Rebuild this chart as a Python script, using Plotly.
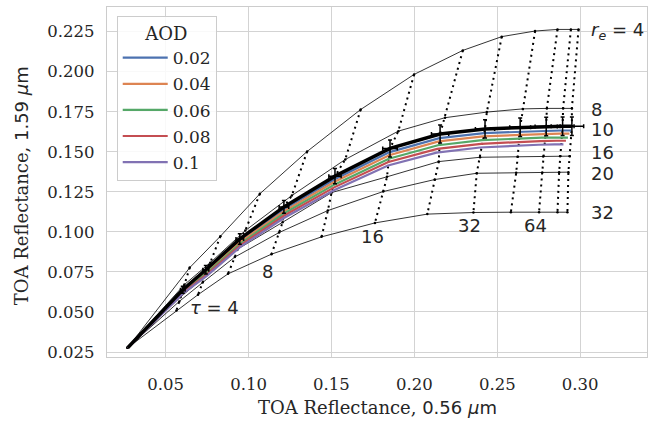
import plotly.graph_objects as go

# ---------------- data ----------------
tau = [2, 4, 6, 8, 12, 16, 24, 32, 48, 64, 96, 128]
re_values = [4, 8, 10, 16, 20, 32]
origin_x = 0.0271
origin_y = 0.0277

re4_x = [0.0645, 0.0830, 0.1068, 0.1353, 0.1676, 0.1998, 0.2292, 0.2527, 0.2728, 0.2863, 0.2944, 0.2990]
re4_y = [0.0777, 0.0973, 0.1238, 0.1502, 0.1764, 0.1983, 0.2133, 0.2219, 0.2254, 0.2264, 0.2264, 0.2264]
re8_x = [0.0613, 0.0769, 0.0980, 0.1261, 0.1583, 0.1903, 0.2185, 0.2437, 0.2654, 0.2799, 0.2897, 0.2950]
re8_y = [0.0671, 0.0808, 0.1008, 0.1227, 0.1452, 0.1629, 0.1713, 0.1748, 0.1768, 0.1771, 0.1771, 0.1771]
re10_x = [0.0603, 0.0742, 0.0947, 0.1213, 0.1521, 0.1853, 0.2155, 0.2426, 0.2638, 0.2795, 0.2894, 0.2950]
re10_y = [0.0639, 0.0764, 0.0956, 0.1156, 0.1348, 0.1521, 0.1611, 0.1643, 0.1653, 0.1658, 0.1660, 0.1660]
re16_x = [0.0589, 0.0737, 0.0935, 0.1205, 0.1502, 0.1835, 0.2147, 0.2396, 0.2623, 0.2777, 0.2879, 0.2937]
re16_y = [0.0593, 0.0721, 0.0893, 0.1060, 0.1246, 0.1344, 0.1439, 0.1466, 0.1469, 0.1471, 0.1472, 0.1473]
re20_x = [0.0582, 0.0723, 0.0917, 0.1184, 0.1478, 0.1812, 0.2123, 0.2376, 0.2614, 0.2771, 0.2873, 0.2929]
re20_y = [0.0566, 0.0684, 0.0843, 0.0996, 0.1133, 0.1252, 0.1327, 0.1366, 0.1369, 0.1371, 0.1373, 0.1373]
re32_x = [0.0565, 0.0695, 0.0876, 0.1138, 0.1440, 0.1762, 0.2078, 0.2356, 0.2582, 0.2752, 0.2863, 0.2923]
re32_y = [0.0510, 0.0608, 0.0738, 0.0861, 0.0969, 0.1056, 0.1111, 0.1121, 0.1123, 0.1123, 0.1123, 0.1123]

# observation (re = 10, no aerosol) uncertainties
err_x = [0.0014, 0.0018, 0.0023, 0.0029, 0.0037, 0.0044, 0.0052, 0.0058, 0.0063, 0.0067, 0.0069, 0.0071]
err_y = [0.0022, 0.0027, 0.0033, 0.0040, 0.0047, 0.0053, 0.0056, 0.0057, 0.0058, 0.0058, 0.0058, 0.0058]

aod_labels = ["0.02", "0.04", "0.06", "0.08", "0.1"]
aod002_x = [0.0604, 0.0743, 0.0947, 0.1213, 0.1520, 0.1851, 0.2151, 0.2420, 0.2631, 0.2787, 0.2886, 0.2945]
aod002_y = [0.0635, 0.0756, 0.0945, 0.1141, 0.1329, 0.1498, 0.1585, 0.1617, 0.1626, 0.1631, 0.1633, 0.1633]
aod004_x = [0.0605, 0.0744, 0.0948, 0.1213, 0.1519, 0.1848, 0.2147, 0.2414, 0.2623, 0.2777, 0.2876, 0.2935]
aod004_y = [0.0631, 0.0749, 0.0936, 0.1128, 0.1313, 0.1479, 0.1565, 0.1596, 0.1606, 0.1611, 0.1613, 0.1613]
aod006_x = [0.0607, 0.0746, 0.0949, 0.1213, 0.1517, 0.1846, 0.2142, 0.2408, 0.2615, 0.2768, 0.2865, 0.2926]
aod006_y = [0.0628, 0.0741, 0.0926, 0.1115, 0.1295, 0.1457, 0.1541, 0.1573, 0.1584, 0.1588, 0.1589, 0.1589]
aod008_x = [0.0608, 0.0747, 0.0949, 0.1213, 0.1516, 0.1843, 0.2138, 0.2402, 0.2607, 0.2759, 0.2856, 0.2914]
aod008_y = [0.0624, 0.0734, 0.0916, 0.1101, 0.1278, 0.1436, 0.1518, 0.1550, 0.1562, 0.1567, 0.1569, 0.1569]
aod010_x = [0.0609, 0.0748, 0.0950, 0.1213, 0.1515, 0.1841, 0.2134, 0.2396, 0.2599, 0.2750, 0.2846, 0.2899]
aod010_y = [0.0620, 0.0726, 0.0906, 0.1087, 0.1260, 0.1415, 0.1495, 0.1527, 0.1539, 0.1544, 0.1546, 0.1546]
aod_colors = ["#4C72B0", "#DD8452", "#55A868", "#C44E52", "#8172B3"]

xticks = [0.05, 0.10, 0.15, 0.20, 0.25, 0.30]
xtick_text = ["0.05", "0.10", "0.15", "0.20", "0.25", "0.30"]
yticks = [0.025, 0.050, 0.075, 0.100, 0.125, 0.150, 0.175, 0.200, 0.225]
ytick_text = ["0.025", "0.050", "0.075", "0.100", "0.125", "0.150", "0.175", "0.200", "0.225"]

re_label_text = ["<i>r</i><sub><i>e</i></sub> = 4", "8", "10", "16", "20", "32"]
re_label_y = [0.2254, 0.1764, 0.1639, 0.1494, 0.1364, 0.1119]
re_label_x = 0.3054
tau_label_text = ["<i>τ</i> = 4", "8", "16", "32", "64"]
tau_label_x = [0.0796, 0.1116, 0.1750, 0.2334, 0.2728]
tau_label_y = [0.0527, 0.0752, 0.0971, 0.1039, 0.1039]

x_title = 'TOA Reflectance, <span style="font-family:DejaVu Sans">0.56 <i>μ</i>m</span>'
y_title = 'TOA Reflectance, <span style="font-family:DejaVu Sans">1.59 <i>μ</i>m</span>'

# ---------------- figure ----------------
SERIF = "DejaVu Serif"
SANS = "DejaVu Sans"
TXT = "#262626"

fig = go.Figure()

re_x = [re4_x, re8_x, re10_x, re16_x, re20_x, re32_x]
re_y = [re4_y, re8_y, re10_y, re16_y, re20_y, re32_y]

# constant-re curves
for xs, ys in zip(re_x, re_y):
    fig.add_trace(go.Scatter(
        x=[origin_x] + xs, y=[origin_y] + ys, mode="lines+markers",
        line=dict(color="black", width=0.8), marker=dict(size=2.5, color="black"),
        showlegend=False, hoverinfo="skip"))

# constant-tau curves (dotted)
for i in range(len(tau)):
    fig.add_trace(go.Scatter(
        x=[xs[i] for xs in re_x], y=[ys[i] for ys in re_y], mode="lines",
        line=dict(color="black", width=2, dash="2px,4px"),
        showlegend=False, hoverinfo="skip"))

# aerosol-affected re = 10 curves
aod_x = [aod002_x, aod004_x, aod006_x, aod008_x, aod010_x]
aod_y = [aod002_y, aod004_y, aod006_y, aod008_y, aod010_y]
for k, (xs, ys) in enumerate(zip(aod_x, aod_y)):
    fig.add_trace(go.Scatter(
        x=[origin_x] + xs, y=[origin_y] + ys, mode="lines",
        line=dict(color=aod_colors[k], width=2.2),
        name=aod_labels[k], legendgroup="g%d" % k, hoverinfo="skip"))

# observations with error bars (re = 10, no aerosol)
fig.add_trace(go.Scatter(
    x=[origin_x] + re10_x, y=[origin_y] + re10_y, mode="lines",
    line=dict(color="black", width=3.5), showlegend=False, hoverinfo="skip"))
fig.add_trace(go.Scatter(
    x=re10_x, y=re10_y, mode="markers", marker=dict(size=1, color="black"),
    error_x=dict(type="data", array=err_x, color="black", thickness=1.5, width=2),
    error_y=dict(type="data", array=err_y, color="black", thickness=1.5, width=2),
    showlegend=False, hoverinfo="skip"))

annotations = []
for t, yv in zip(re_label_text, re_label_y):
    annotations.append(dict(x=re_label_x, y=yv, xref="x", yref="y", text=t,
                            showarrow=False, xanchor="left", yanchor="middle",
                            font=dict(family=SANS, size=18, color=TXT)))
for t, xv, yv in zip(tau_label_text, tau_label_x, tau_label_y):
    annotations.append(dict(x=xv, y=yv, xref="x", yref="y", text=t,
                            showarrow=False, xanchor="center", yanchor="middle",
                            font=dict(family=SANS, size=18, color=TXT)))
# axis titles
annotations.append(dict(x=0.5, y=-0.145, xref="paper", yref="paper", text=x_title,
                        showarrow=False, xanchor="center", yanchor="middle",
                        font=dict(family=SERIF, size=18, color=TXT)))
annotations.append(dict(x=-0.158, y=0.49, xref="paper", yref="paper", text=y_title,
                        showarrow=False, xanchor="center", yanchor="middle", textangle=-90,
                        font=dict(family=SERIF, size=18, color=TXT)))

axis_common = dict(
    showgrid=True, gridcolor="#d3d3d3", gridwidth=1.3,
    showline=True, linecolor="#cccccc", linewidth=1.3, mirror=True,
    zeroline=False, ticks="", automargin=False,
    tickfont=dict(family=SERIF, size=16.5, color=TXT),
)

fig.update_layout(
    width=660, height=421,
    margin=dict(l=107, r=13, t=7, b=64),
    paper_bgcolor="white", plot_bgcolor="white",
    xaxis=dict(range=[0.0146, 0.3403], tickvals=xticks, ticktext=xtick_text,
               ticklabelstandoff=12, **axis_common),
    yaxis=dict(range=[0.0219, 0.2404], tickvals=yticks, ticktext=ytick_text,
               ticklabelstandoff=8, **axis_common),
    legend=dict(x=0.018, y=0.975, xanchor="left", yanchor="top",
                bgcolor="rgba(255,255,255,0.85)", bordercolor="#cccccc", borderwidth=1,
                font=dict(family=SERIF, size=17, color=TXT),
                title=dict(text="AOD", side="top center", font=dict(family=SERIF, size=18, color=TXT)),
                tracegroupgap=1, itemwidth=45),
    annotations=annotations,
    showlegend=True,
)

fig.write_html("out.html", config={"displayModeBar": False},
               post_script="document.body.style.margin='0';document.body.style.overflow='hidden';")
